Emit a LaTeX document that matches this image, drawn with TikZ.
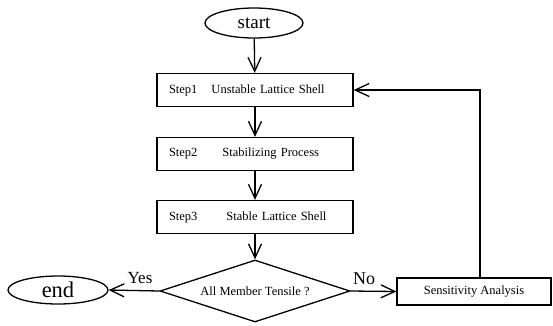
\documentclass[tikz,border=0pt]{standalone}
\usepackage{fontspec}
\setmainfont{Liberation Serif}
\usetikzlibrary{arrows.meta, positioning, shapes.geometric, calc}

\begin{document}
\begin{tikzpicture}[x=1pt, y=-1pt, line width=1.3pt,
    every node/.style={font=\fontsize{12.5}{14}\selectfont},
    stepbox/.style={draw, rectangle, minimum width=196pt, minimum height=33pt,
      text width=172pt, inner xsep=12pt, align=left},
    term/.style={draw, ellipse, inner sep=0pt},
    test/.style={draw, diamond, aspect=3, inner sep=0pt,
      minimum width=190pt, minimum height=62pt},
    flow/.style={-{Straight Barb[length=14pt, width=13pt, line width=1.3pt]}}]
      \useasboundingbox (0,0) rectangle (553,325);
      % terminals and steps
      \node[term, minimum width=98pt, minimum height=30pt,
        font=\fontsize{19}{21}\selectfont] (start) at (254,23) {start};
      \node[stepbox] (s1) at (255,90) {Step1\hspace{14pt}Unstable Lattice Shell};
      \node[stepbox] (s2) at (255,154) {Step2\hspace{25pt}Stabilizing Process};
      \node[stepbox] (s3) at (255,217) {Step3\hspace{29pt}Stable Lattice Shell};
      \node[test] (check) at (255,291) {All Member Tensile ?};
      \node[term, minimum width=100pt, minimum height=28pt,
        font=\fontsize{22.5}{24}\selectfont] (end) at (58,290) {end};
      \node[draw, rectangle, minimum width=154pt, minimum height=27pt] (sens)
        at (474,291.5) {Sensitivity Analysis};
      \node[font=\fontsize{17}{19}\selectfont] (yes) at (140,278) {Yes};
      \node[font=\fontsize{18}{20}\selectfont] (no) at (364,279) {No};
      \coordinate (back) at (480,90);
      % connectors
      \draw[flow] (start) -- (s1);
      \draw[flow] (s1) -- (s2);
      \draw[flow] (s2) -- (s3);
      \draw[flow] (s3) -- (check.north);
      \draw[flow] (check.west) -- (end.east);
      \draw[flow] (check.east) -- (sens.west);
      \draw[flow] (sens.north -| back) -- (back) -- (s1.east);
    \end{tikzpicture}
\end{document}
